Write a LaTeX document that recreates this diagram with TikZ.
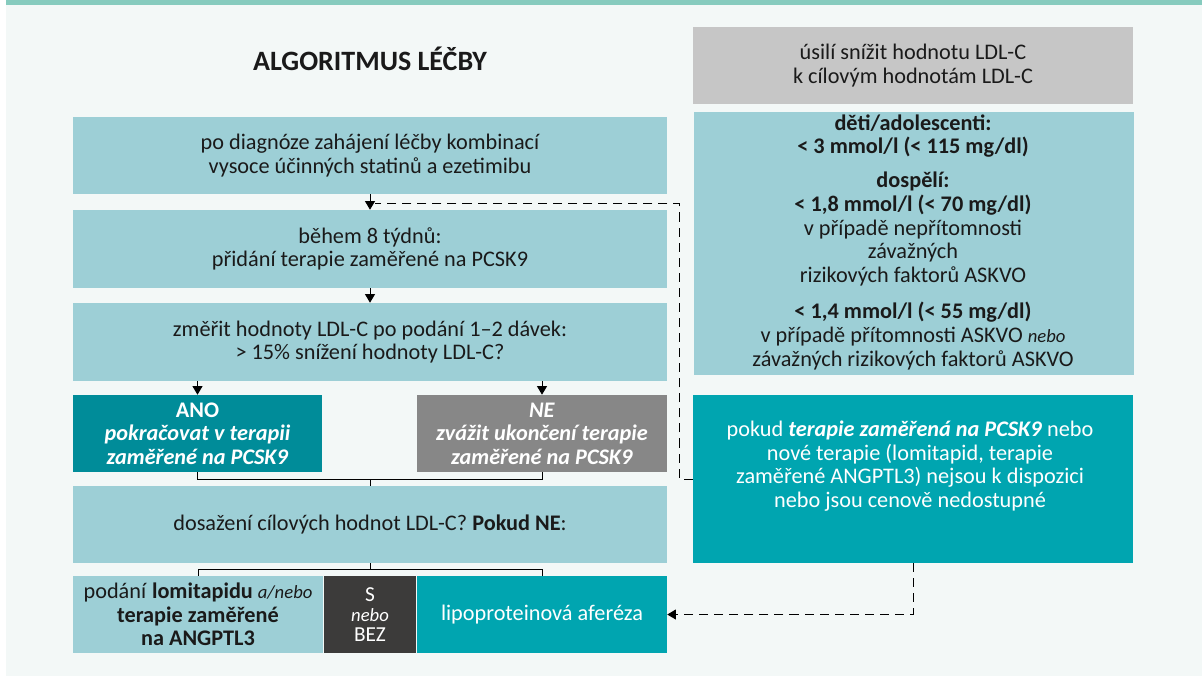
\documentclass[tikz,border=0pt]{standalone}
\usepackage{fontspec}
\setmainfont{Carlito}
\usetikzlibrary{arrows.meta}
\definecolor{bg}{HTML}{F3F8F7}
\definecolor{topbar}{HTML}{86CBBE}
\definecolor{lteal}{HTML}{9DCFD6}
\definecolor{greybox}{HTML}{C6C6C6}
\definecolor{anoteal}{HTML}{008C99}
\definecolor{negrey}{HTML}{878787}
\definecolor{dteal}{HTML}{00A5B0}
\definecolor{sbox}{HTML}{3C3B3A}
\definecolor{txt}{HTML}{1A1A1A}
\newcommand\mainsz{\fontsize{16.7}{17.7}\selectfont}
\newcommand\smallsz{\fontsize{14}{15}\selectfont}
\newcommand\titlesz{\fontsize{21}{23}\selectfont}
\tikzset{
  box/.style={inner sep=0pt, align=center, text=txt, font=\mainsz, rectangle},
  sz/.style 2 args={minimum width=#1*0.75pt, minimum height=#2*0.75pt},
  lbox/.style={box, fill=lteal},
  wbox/.style={box, text=white},
  txtnode/.style={inner sep=0pt, align=center, text=txt, font=\mainsz},
  conn/.style={draw=black, line width=0.75pt},
  arr/.style={conn, -{Triangle[length=6.5pt,width=7.5pt]}},
  dashconn/.style={conn, dash pattern=on 6.8pt off 4.5pt},
}
\begin{document}
\begin{tikzpicture}[x=0.75pt,y=-0.75pt]
\path[use as bounding box] (0,0) rectangle (1202,676);
\fill[bg] (6,5) rectangle (1202,676);
\fill[topbar] (6,0) rectangle (1202,5);

% title
\node[txtnode, font=\titlesz\bfseries] (title) at (370,59) {ALGORITMUS LÉČBY};

% left column
\node[lbox, sz={594}{77}] (b1) at (370,155.5) {po diagnóze zahájení léčby kombinací\\vysoce účinných statinů a ezetimibu};
\node[lbox, sz={594}{78}] (b2) at (370,249) {během 8 týdnů:\\přidání terapie zaměřené na PCSK9};
\node[lbox, sz={594}{78}] (b3) at (370,342) {změřit hodnoty LDL-C po podání 1–2 dávek:\\> 15\% snížení hodnoty LDL-C?};
\node[wbox, fill=anoteal, sz={249}{77}] (ano) at (197.5,433.5) {\textbf{ANO}\\\textbf{\textit{pokračovat v terapii}}\\\textbf{\textit{zaměřené na PCSK9}}};
\node[wbox, fill=negrey, sz={250}{77}] (ne) at (542,433.5) {\textbf{\textit{NE}}\\\textbf{\textit{zvážit ukončení terapie}}\\\textbf{\textit{zaměřené na PCSK9}}};
\node[lbox, sz={594}{77}] (b4) at (370,524.5) {dosažení cílových hodnot LDL-C? \textbf{Pokud NE}:};
\node[lbox, sz={250}{77}] (lom) at (198,614.5) {podání \textbf{lomitapidu} {\smallsz\textit{a/nebo}}\\\textbf{terapie zaměřené}\\\textbf{na ANGPTL3}};
\node[wbox, fill=sbox, font=\fontsize{16}{15}\selectfont, sz={92}{77}] (snebo) at (370,614.5) {S\\{\smallsz\textit{nebo}}\\BEZ};
\node[wbox, fill=dteal, sz={250}{77}] (lipo) at (542,614.5) {lipoproteinová aferéza};

% right column
\node[box, fill=greybox, sz={440}{77}] (goal) at (913,65.5) {úsilí snížit hodnotu LDL-C\\k cílovým hodnotám LDL-C};
\node[box, fill=lteal, sz={440}{263}] (targets) at (914,243.5) {};
\node[txtnode] (t1) at (913,136) {\textbf{děti/adolescenti:}\\\textbf{< 3 mmol/l (< 115 mg/dl)}};
\node[txtnode] (t2) at (913,229) {\textbf{dospělí:}\\\textbf{< 1,8 mmol/l (< 70 mg/dl)}\\v případě nepřítomnosti\\závažných\\rizikových faktorů ASKVO};
\node[txtnode] (t3) at (913,336) {\textbf{< 1,4 mmol/l (< 55 mg/dl)}\\v případě přítomnosti ASKVO {\smallsz\textit{nebo}}\\závažných rizikových faktorů ASKVO};
\node[box, fill=dteal, sz={440}{168}] (nodisp) at (913,479) {};
\node[txtnode, text=white] (t4) at (910,466) {pokud \textbf{\textit{terapie zaměřená na PCSK9}} nebo\\nové terapie (lomitapid, terapie\\zaměřené ANGPTL3) nejsou k dispozici\\nebo jsou cenově nedostupné};

% connectors
\draw[arr] (b1.south) -- (b2.north);
\draw[arr] (b2.south) -- (b3.north);
\draw[arr] (b3.south -| ano.north) -- (ano.north);
\draw[arr] (b3.south -| ne.north) -- (ne.north);
\draw[conn] (ano.south) -- ++(0,7) -| (ne.south);
\draw[conn] (b4.north) -- ++(0,-7);
\draw[conn] (b4.south) -- ++(0,7);
\draw[conn] (lom.north) -- ++(0,-6) -| (lipo.north);
\coordinate (j1) at (375,203);
\coordinate (jr) at (679,203);
\draw[dashconn] (nodisp.west) -| (jr) -- (j1);
\draw[dashconn, -{Triangle[length=6.5pt,width=7.5pt]}] (nodisp.south) |- (lipo.east);
\end{tikzpicture}
\end{document}
